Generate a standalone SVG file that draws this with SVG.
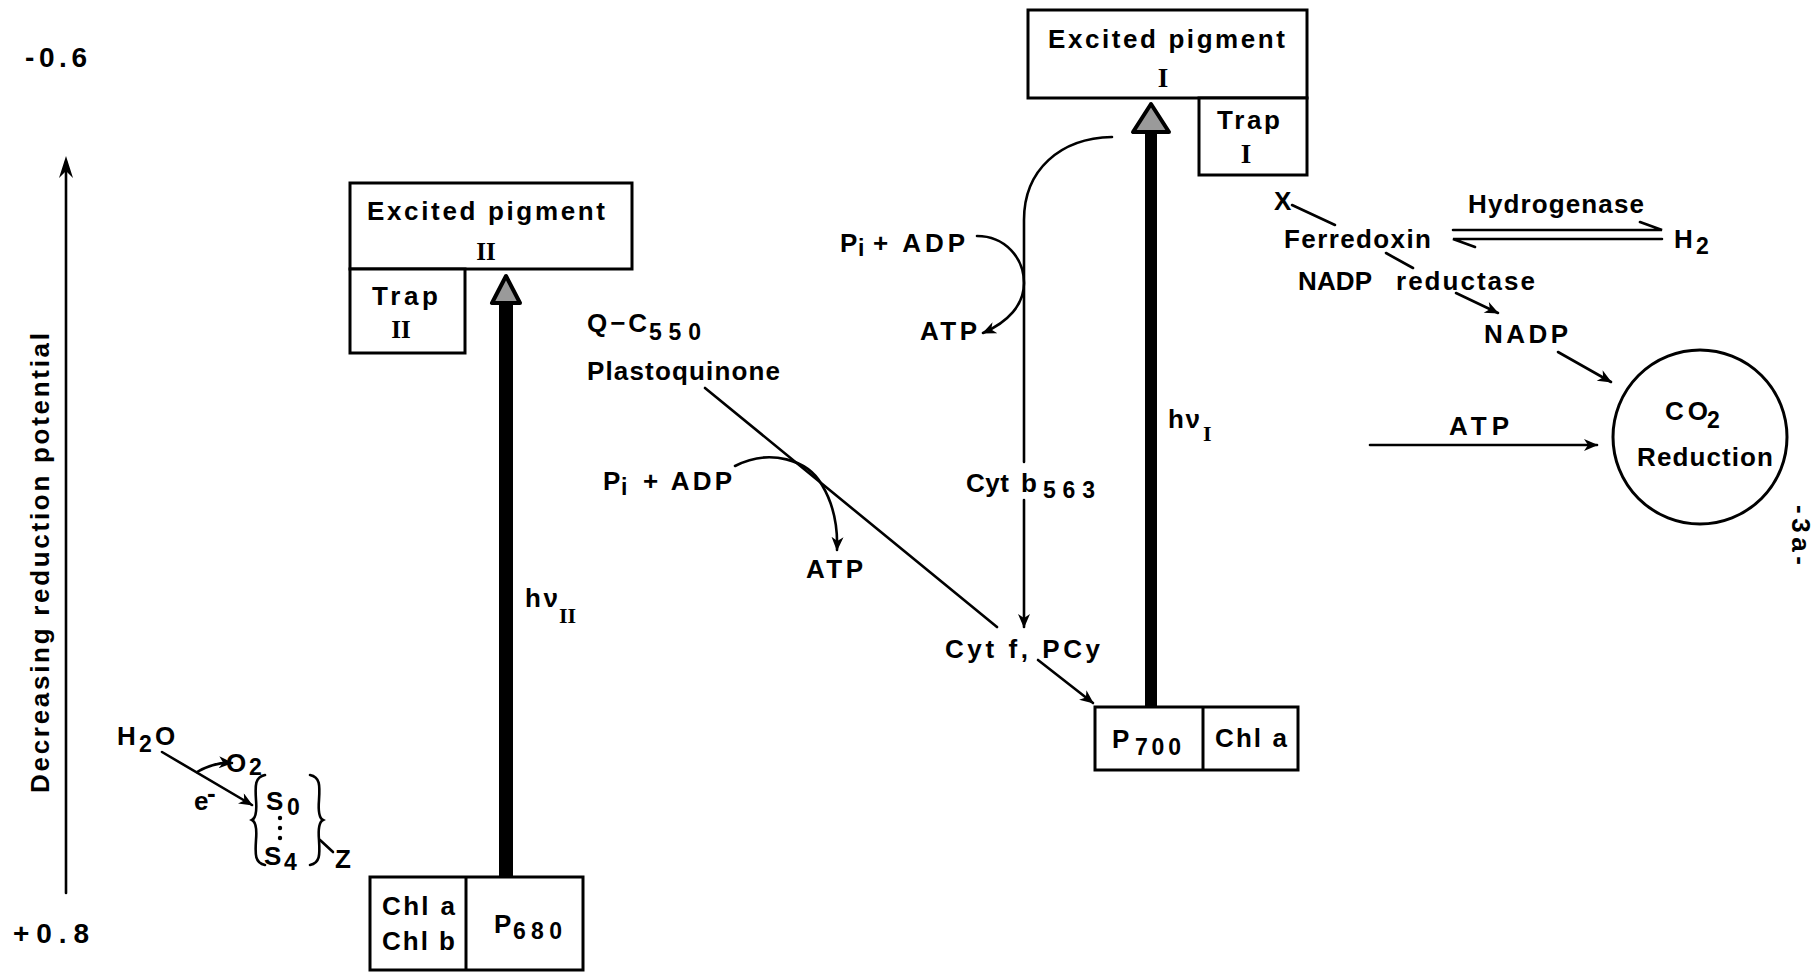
<svg xmlns="http://www.w3.org/2000/svg" width="1814" height="975" viewBox="0 0 1814 975">
<defs>
<style>
.t{font-family:"Liberation Sans",Arial,sans-serif;font-size:26px;font-weight:bold;fill:#000}
.s{font-size:23px}
.big{font-size:28px}
.rom{font-family:"Liberation Serif","Times New Roman",serif;font-weight:bold;fill:#000}
.ln{stroke:#000;stroke-width:2.6;fill:none;stroke-linecap:round}
.box{fill:#fff;stroke:#000;stroke-width:3}
.head{fill:#9a9a9a;stroke:#000;stroke-width:4;stroke-linejoin:round}
</style>
<marker id="ah" viewBox="0 0 14 12" refX="13" refY="6" markerWidth="15" markerHeight="12" markerUnits="userSpaceOnUse" orient="auto">
<path d="M0,0 L14,6 L0,12 L4,6 z" fill="#000"/>
</marker>
</defs>
<rect width="1814" height="975" fill="#fff"/>

<g id="axis">
<line class="ln" x1="66" y1="893" x2="66" y2="162"/>
<path d="M66,156 L59,178 L66,171 L73,178 z" fill="#000"/>
<text class="t big" x="25" y="67" textLength="62">-0.6</text>
<text class="t big" x="13" y="943" textLength="76">+0.8</text>
<text class="t" transform="translate(49,793) rotate(-90)" x="0" y="0" textLength="460">Decreasing reduction potential</text>
</g>

<g id="connectors">
<line class="ln" x1="705" y1="388" x2="997" y2="627"/>
<path class="ln" d="M735,466 C770,448 808,460 822,485 C834,505 838,525 837,550" marker-end="url(#ah)"/>
<path class="ln" d="M977,236 C1005,236 1024,258 1024,283 C1024,305 1008,322 983,333" marker-end="url(#ah)"/>
<path class="ln" d="M1112,137 C1060,138 1024,170 1024,220 L1024,462"/>
<path class="ln" d="M1024,500 L1024,627" marker-end="url(#ah)"/>
<line class="ln" x1="1038" y1="660" x2="1093" y2="703" marker-end="url(#ah)"/>
<line class="ln" x1="162" y1="752" x2="252" y2="805" marker-end="url(#ah)"/>
<path class="ln" d="M197,772 Q214,762 232,763" marker-end="url(#ah)"/>
<line class="ln" x1="320" y1="840" x2="333" y2="852"/>
<line class="ln" x1="1292" y1="205" x2="1335" y2="225"/>
<line class="ln" x1="1386" y1="253" x2="1413" y2="268"/>
<line class="ln" x1="1456" y1="293" x2="1498" y2="313" marker-end="url(#ah)"/>
<line class="ln" x1="1558" y1="352" x2="1611" y2="382" marker-end="url(#ah)"/>
<line class="ln" x1="1370" y1="445" x2="1597" y2="445" marker-end="url(#ah)"/>
<path class="ln" d="M1453,230 L1662,230 L1640,222"/>
<path class="ln" d="M1662,239 L1453,239 L1475,247"/>
</g>

<g id="ps2-excited">
<rect class="box" x="350" y="183" width="282" height="86"/>
<text class="t" x="367" y="220" textLength="238">Excited pigment</text>
<text class="rom" x="486" y="260" font-size="25" text-anchor="middle">II</text>
</g>
<g id="ps2-trap">
<rect class="box" x="350" y="269" width="115" height="84"/>
<text class="t" x="372" y="305" textLength="66">Trap</text>
<text class="rom" x="401" y="338" font-size="25" text-anchor="middle">II</text>
</g>
<g id="ps2-arrow">
<rect x="499" y="300" width="14" height="577" fill="#000"/>
<polygon class="head" points="506,276 492,303 520,303"/>
<text class="t" x="525" y="607" textLength="33">hν</text>
<text class="rom" x="559" y="623" font-size="22">II</text>
</g>
<g id="ps2-center">
<rect class="box" x="370" y="877" width="213" height="93" stroke-width="3.5"/>
<line x1="466" y1="877" x2="466" y2="970" stroke="#000" stroke-width="3"/>
<text class="t" x="382" y="915" textLength="73">Chl a</text>
<text class="t" x="382" y="950" textLength="73">Chl b</text>
<text class="t" x="494" y="933">P</text>
<text class="t s" x="513" y="939" textLength="49">680</text>
</g>

<g id="water">
<text class="t" x="117" y="745">H</text>
<text class="t s" x="139" y="752">2</text>
<text class="t" x="155" y="745">O</text>
<text class="t" x="226" y="772">O</text>
<text class="t s" x="249" y="775">2</text>
<text class="t" x="194" y="810" font-size="22">e</text>
<text class="t" x="207" y="802" font-size="18">-</text>
</g>
<g id="s-states">
<path class="ln" d="M265,775 C255,777 255,785 256,800 C257,812 256,818 252,820 C256,822 257,828 256,840 C255,855 255,863 265,865"/>
<path class="ln" d="M310,775 C320,777 320,785 319,800 C318,812 319,818 323,820 C319,822 318,828 319,840 C320,855 320,863 310,865"/>
<text class="t" x="266" y="810">S</text>
<text class="t s" x="287" y="815">0</text>
<circle cx="280" cy="818" r="2.2"/>
<circle cx="280" cy="828" r="2.2"/>
<circle cx="280" cy="838" r="2.2"/>
<text class="t" x="264" y="865">S</text>
<text class="t s" x="284" y="870">4</text>
<text class="t" x="335" y="868">Z</text>
</g>

<g id="q-pq">
<text class="t" x="587" y="332" textLength="60">Q−C</text>
<text class="t s" x="649" y="340" textLength="52">550</text>
<text class="t" x="587" y="380" textLength="193">Plastoquinone</text>
</g>
<g id="phos-lower">
<text class="t" x="603" y="490">P</text>
<text class="t s" x="621" y="495">i</text>
<text class="t" x="643" y="490" textLength="89">+ ADP</text>
<text class="t" x="806" y="578" textLength="57">ATP</text>
</g>
<g id="phos-upper">
<text class="t" x="840" y="252">P</text>
<text class="t s" x="858" y="256">i</text>
<text class="t" x="873" y="252" textLength="92">+ ADP</text>
<text class="t" x="920" y="340" textLength="57">ATP</text>
</g>
<g id="cyt-b">
<text class="t" x="966" y="492" textLength="43">Cyt</text>
<text class="t" x="1021" y="492">b</text>
<text class="t s" x="1043" y="498" textLength="52">563</text>
</g>
<g id="cyt-f">
<text class="t" x="945" y="658" textLength="155">Cyt f, PCy</text>
</g>

<g id="ps1-excited">
<rect class="box" x="1028" y="10" width="279" height="88"/>
<text class="t" x="1048" y="48" textLength="237">Excited pigment</text>
<text class="rom" x="1163" y="87" font-size="27" text-anchor="middle">I</text>
</g>
<g id="ps1-trap">
<rect class="box" x="1199" y="98" width="108" height="77"/>
<text class="t" x="1217" y="129" textLength="63">Trap</text>
<text class="rom" x="1246" y="163" font-size="27" text-anchor="middle">I</text>
</g>
<g id="ps1-arrow">
<rect x="1145" y="130" width="12" height="577" fill="#000"/>
<polygon class="head" points="1151,104 1133,132 1169,132"/>
<text class="t" x="1168" y="428" textLength="32">hν</text>
<text class="rom" x="1203" y="441" font-size="22">I</text>
</g>
<g id="ps1-center">
<rect class="box" x="1095" y="707" width="203" height="63" stroke-width="3.5"/>
<line x1="1203" y1="707" x2="1203" y2="770" stroke="#000" stroke-width="3"/>
<text class="t" x="1112" y="748">P</text>
<text class="t s" x="1135" y="755" textLength="46">700</text>
<text class="t" x="1215" y="747" textLength="72">Chl a</text>
</g>

<g id="ferredoxin">
<text class="t" x="1274" y="210">X</text>
<text class="t" x="1284" y="248" textLength="147">Ferredoxin</text>
<text class="t" x="1468" y="213" textLength="176">Hydrogenase</text>
<text class="t" x="1674" y="248">H</text>
<text class="t s" x="1696" y="254">2</text>
<text class="t" x="1298" y="290" textLength="74">NADP</text>
<text class="t" x="1396" y="290" textLength="139">reductase</text>
<text class="t" x="1484" y="343" textLength="84">NADP</text>
<text class="t" x="1449" y="435" textLength="60">ATP</text>
</g>
<g id="co2-reduction">
<circle cx="1700" cy="437" r="87" fill="none" stroke="#000" stroke-width="3"/>
<text class="t" x="1665" y="420" textLength="43">CO</text>
<text class="t s" x="1707" y="428">2</text>
<text class="t" x="1637" y="466" textLength="136">Reduction</text>
</g>
<g id="page-number">
<text class="t" font-size="20" transform="translate(1792,505) rotate(90)" x="0" y="0" textLength="60">-3a-</text>
</g>
</svg>
